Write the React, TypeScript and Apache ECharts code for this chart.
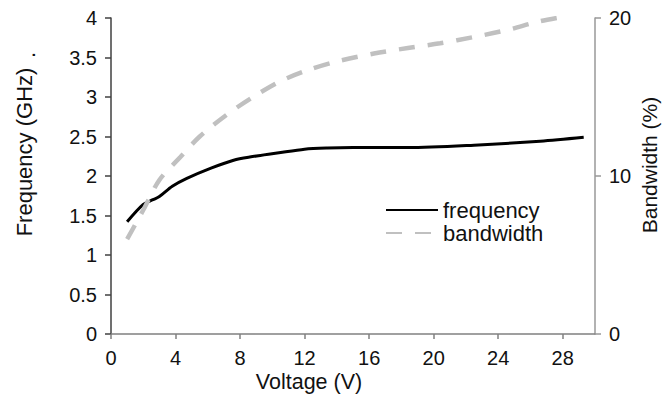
import React, { useEffect, useRef } from "react";
import * as echarts from "echarts";

const freqVoltage = [1, 2, 2.6, 3, 3.8, 4.7, 6.2, 7.6, 8.6, 10.3, 12, 13.4, 15, 18.4, 22.5, 26.6, 29.3];
const freqValues = [1.42, 1.64, 1.7, 1.74, 1.87, 1.97, 2.1, 2.2, 2.24, 2.29, 2.34, 2.355, 2.36, 2.36, 2.39, 2.44, 2.49];

const bwVoltage = [1, 2, 3, 4.3, 5.5, 7.2, 8.8, 10.5, 12.2, 13.8, 16.3, 18.4, 20.4, 22.5, 24.6, 26.6, 28.2];
const bwValues = [6.0, 7.85, 9.75, 11.2, 12.5, 13.9, 15.0, 16.0, 16.7, 17.2, 17.75, 18.1, 18.4, 18.8, 19.25, 19.8, 20.1];

const xTicks = [0, 4, 8, 12, 16, 20, 24, 28];

const FONT = "Liberation Sans, Arial, sans-serif";

export default function App() {
  const ref = useRef<HTMLDivElement>(null);
  useEffect(() => {
    if (!ref.current) return;
    const chart = echarts.init(ref.current, undefined, { renderer: "svg" });
    chart.setOption({
      animation: false,
      textStyle: { fontFamily: FONT },
      grid: { left: 111, right: 74, top: 18, bottom: 64, containLabel: false },
      legend: {
        orient: "vertical",
        left: 385,
        top: 199,
        padding: 0,
        itemWidth: 52,
        itemHeight: 14,
        itemGap: 1,
        itemStyle: { opacity: 0 },
        textStyle: { fontSize: 22, color: "#111", fontFamily: FONT },
        data: ["frequency", "bandwidth"],
      },
      xAxis: {
        type: "value",
        min: 0,
        max: 30,
        interval: 4,
        splitLine: { show: false },
        axisLine: { lineStyle: { color: "#808080", width: 1.5 } },
        axisTick: { length: 5, lineStyle: { color: "#808080", width: 1.5 }, customValues: xTicks },
        axisLabel: { fontSize: 20, color: "#111", margin: 14, customValues: xTicks, fontFamily: FONT },
      },
      yAxis: [
        {
          type: "value",
          min: 0,
          max: 4,
          interval: 0.5,
          splitLine: { show: false },
          axisLine: { show: true, lineStyle: { color: "#404040", width: 1.5 } },
          axisTick: { show: true, length: 6, lineStyle: { color: "#404040", width: 1.5 } },
          axisLabel: { fontSize: 20, color: "#111", margin: 14, fontFamily: FONT },
        },
        {
          type: "value",
          min: 0,
          max: 20,
          interval: 10,
          position: "right",
          splitLine: { show: false },
          axisLine: { show: true, lineStyle: { color: "#999999", width: 1.5 } },
          axisTick: { show: true, length: 6, lineStyle: { color: "#999999", width: 1.5 } },
          axisLabel: { fontSize: 20, color: "#111", margin: 14, fontFamily: FONT },
        },
      ],
      graphic: [
        {
          type: "text",
          x: 24,
          y: 152,
          rotation: Math.PI / 2,
          style: { text: "Frequency (GHz)", fontSize: 22, fill: "#111", fontFamily: FONT, align: "center", verticalAlign: "middle" },
        },
        {
          type: "text",
          x: 27,
          y: 55,
          rotation: Math.PI / 2,
          style: { text: ".", fontSize: 22, fill: "#111", fontFamily: FONT, align: "center", verticalAlign: "middle" },
        },
        {
          type: "text",
          x: 649,
          y: 165,
          rotation: Math.PI / 2,
          style: { text: "Bandwidth (%)", fontSize: 21, fill: "#111", fontFamily: FONT, align: "center", verticalAlign: "middle" },
        },
        {
          type: "text",
          x: 309,
          y: 382,
          style: { text: "Voltage (V)", fontSize: 21.5, fill: "#111", fontFamily: FONT, align: "center", verticalAlign: "middle" },
        },
      ],
      series: [
        {
          name: "frequency",
          type: "line",
          xAxisIndex: 0,
          yAxisIndex: 0,
          data: freqVoltage.map((v, i) => [v, freqValues[i]]),
          showSymbol: false,
          symbol: "none",
          smooth: 0.3,
          lineStyle: { color: "#000", width: 3 },
          itemStyle: { color: "#000" },
        },
        {
          name: "bandwidth",
          type: "line",
          xAxisIndex: 0,
          yAxisIndex: 1,
          data: bwVoltage.map((v, i) => [v, bwValues[i]]),
          showSymbol: false,
          symbol: "none",
          smooth: 0.3,
          clip: true,
          lineStyle: { color: "#c0c0c0", width: 4.5, type: [16, 13] },
          itemStyle: { color: "#c0c0c0" },
        },
      ],
    });
    return () => chart.dispose();
  }, []);
  return <div ref={ref} style={{ width: 669, height: 398, position: "absolute", left: 0, top: 0 }} />;
}
